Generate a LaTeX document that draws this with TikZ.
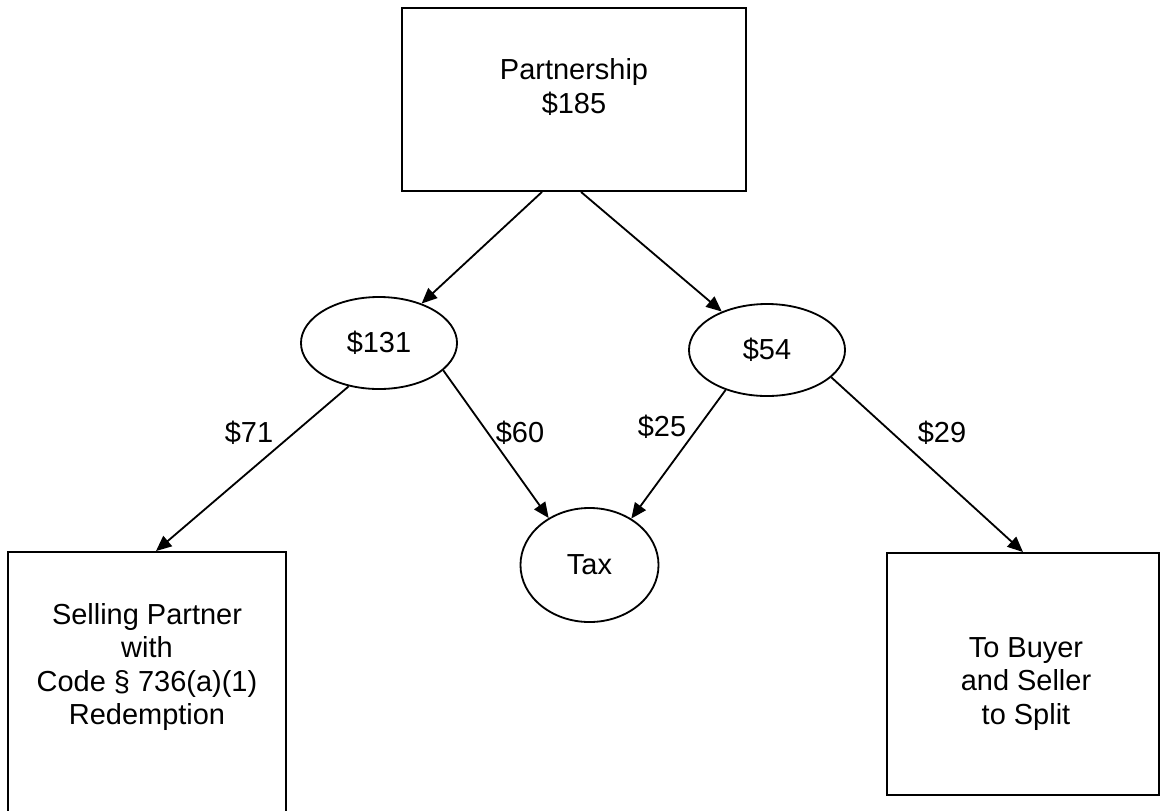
\documentclass[tikz,border=0pt]{standalone}
\usepackage{fontspec}
\setmainfont{Liberation Sans}
\usetikzlibrary{arrows.meta,shapes.geometric}
\begin{document}
\begin{tikzpicture}[->,>={Triangle[length=11pt,width=9.5pt]},x=0.025cm,y=-0.025cm,
  line width=1.3pt,font=\fontsize{20.6}{23.8}\selectfont,
  box/.style={draw,-,rectangle},
  oval/.style={draw,-,ellipse,minimum width=3.9cm,minimum height=2.3cm},
  txt/.style={align=center}]

\useasboundingbox (0,0) rectangle (1161,810);
\clip (0,0) rectangle (1161,810);

\node[box,minimum width=8.6cm,minimum height=4.575cm] (part) at (574,99.5) {};
\node[txt] (parttxt) at (574,87) {Partnership\\\$185};

\node[oval] (c131) at (379,343) {\$131};
\node[oval] (c54) at (767,350) {\$54};
\node[oval,minimum width=3.45cm,minimum height=2.85cm] (tax) at (589.5,565) {Tax};

\node[box,minimum width=6.95cm,minimum height=7.2cm] (sell) at (147,696) {};
\node[txt] (selltxt) at (147,667) {Selling Partner\\with\\Code § 736(a)(1)\\Redemption};

\node[box,minimum width=6.8cm,minimum height=6.05cm] (buy) at (1023,674) {};
\node[txt] (buytxt) at (1026,684) {To Buyer\\and Seller\\to Split};

\node (l71) at (249,433) {\$71};
\node (l60) at (520,433) {\$60};
\node (l25) at (662,427) {\$25};
\node (l29) at (942,433) {\$29};

\draw ([xshift=-0.8cm]part.south) -- (c131);
\draw ([xshift=0.175cm]part.south) -- (c54);
\draw (c131.235) -- ([xshift=0.225cm]sell.north);
\draw (c131.337) -- (tax.131);
\draw (c54.224) -- (tax.48);
\draw (c54.337) -- (buy.north);

\end{tikzpicture}
\end{document}
